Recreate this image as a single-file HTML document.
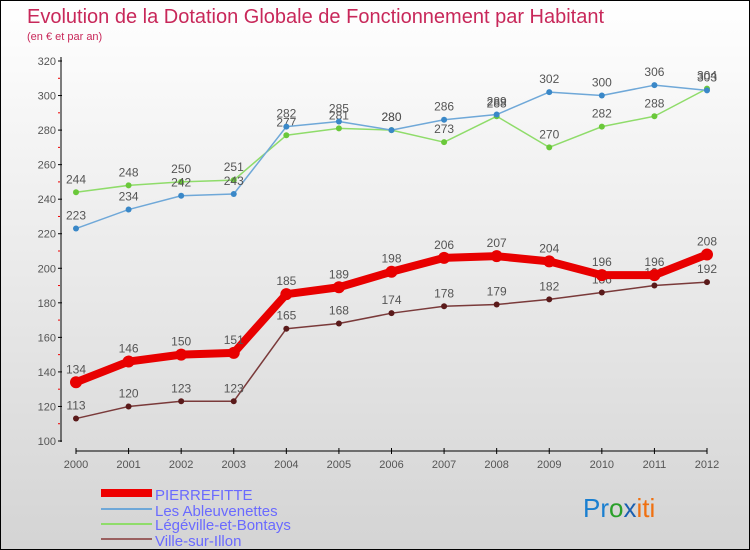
<!DOCTYPE html>
<html><head><meta charset="utf-8"><style>
body{margin:0}
#c{width:750px;height:550px;position:relative;box-sizing:border-box;border:1px solid #000;background:linear-gradient(#fff,#d4d4d4);font-family:"Liberation Sans",sans-serif;overflow:hidden}
</style></head><body>
<div id="c">
<svg id="s" width="748" height="548" style="position:absolute;left:0;top:0">
<text x="26" y="22" font-size="20" fill="#c8285a">Evolution de la Dotation Globale de Fonctionnement par Habitant</text>
<text x="26" y="39" font-size="11" fill="#c8285a">(en € et par an)</text>
<g id="axes"></g><g id="series"></g>
<g>
<line x1="100" y1="492" x2="151" y2="492" stroke="#e00" stroke-width="8"/>
<text x="154" y="499" font-size="15" fill="#6a6aff">PIERREFITTE</text>
<line x1="100" y1="508" x2="151" y2="508" stroke="#6fa8d8" stroke-width="2"/>
<text x="154" y="515" font-size="15" fill="#6a6aff">Les Ableuvenettes</text>
<line x1="100" y1="523" x2="151" y2="523" stroke="#8fdc6a" stroke-width="2"/>
<text x="154" y="529" font-size="15" fill="#6a6aff">Légéville-et-Bontays</text>
<line x1="100" y1="538" x2="151" y2="538" stroke="#9a6060" stroke-width="2"/>
<text x="154" y="545" font-size="15" fill="#6a6aff">Ville-sur-Illon</text>
</g>
<text x="582" y="516" font-size="26"><tspan fill="#1a7fd0">Pr</tspan><tspan fill="#2aa02a">o</tspan><tspan fill="#1a5fb0">x</tspan><tspan fill="#f07010">iti</tspan></text>
</svg>
</div>
<script>
const years=[2000,2001,2002,2003,2004,2005,2006,2007,2008,2009,2010,2011,2012];
const pierrefitte=[134,146,150,151,185,189,198,206,207,204,196,196,208];
const ableuvenettes=[223,234,242,243,282,285,280,286,289,302,300,306,303];
const legeville=[244,248,250,251,277,281,280,273,288,270,282,288,304];
const villeSurIllon=[113,120,123,123,165,168,174,178,179,182,186,190,192];
const yTicks=[100,120,140,160,180,200,220,240,260,280,300,320];
const NS="http://www.w3.org/2000/svg";
const X=i=>75+i*(706-75)/(years.length-1);
const Y=v=>440-(v-100)*(380/220);
function mk(t,a,p){const e=document.createElementNS(NS,t);for(const k in a)e.setAttribute(k,a[k]);p.appendChild(e);return e;}
const ax=document.getElementById('axes');
let e=mk('line',{x1:60,y1:56,x2:60,y2:441,stroke:'#000'},ax);


e=mk('line',{x1:75,y1:450,x2:706,y2:450,stroke:'#000'},ax);


yTicks.forEach(v=>{
 mk('line',{x1:57,y1:Y(v),x2:61,y2:Y(v),stroke:'#000'},ax);
 if(v<320)mk('line',{x1:57,y1:Y(v+10),x2:59,y2:Y(v+10),stroke:'#e00'},ax);
 const t=mk('text',{x:55,y:Y(v)+4,'font-size':11,fill:'#555','text-anchor':'end'},ax);t.textContent=v;
 
 
});
years.forEach((y,i)=>{
 mk('line',{x1:X(i),y1:447,x2:X(i),y2:453,stroke:'#000'},ax);
 const t=mk('text',{x:X(i),y:467,'font-size':11,fill:'#555','text-anchor':'middle'},ax);t.textContent=y;
 
 
});
const sg=document.getElementById('series');
function draw(arr,name,col,w,r,dot,lab){
 const g=mk('g',{},sg);
 
 
 const p=mk('polyline',{points:arr.map((v,i)=>X(i)+','+Y(v)).join(' '),fill:'none',stroke:col,'stroke-width':w,'stroke-linejoin':'round'},g);
 
 
 arr.forEach((v,i)=>{
  const c=mk('circle',{cx:X(i),cy:Y(v),r:r,fill:dot},g);
  
  
  const t=mk('text',{x:X(i),y:Y(v)-9,'font-size':12,fill:lab,'text-anchor':'middle'},g);t.textContent=v;
  
  
 });
}
draw(villeSurIllon,'ville-sur-illon','#7a3a3a',1.5,3,'#5a1a1a','#555');
draw(legeville,'legeville','#8fdc6a',1.5,3,'#6ac83a','#555');
draw(ableuvenettes,'ableuvenettes','#6fa8d8',1.5,3,'#3a88c8','#555');
draw(pierrefitte,'pierrefitte','#e80000',8,6,'#e80000','#555');
</script>
</body></html>
